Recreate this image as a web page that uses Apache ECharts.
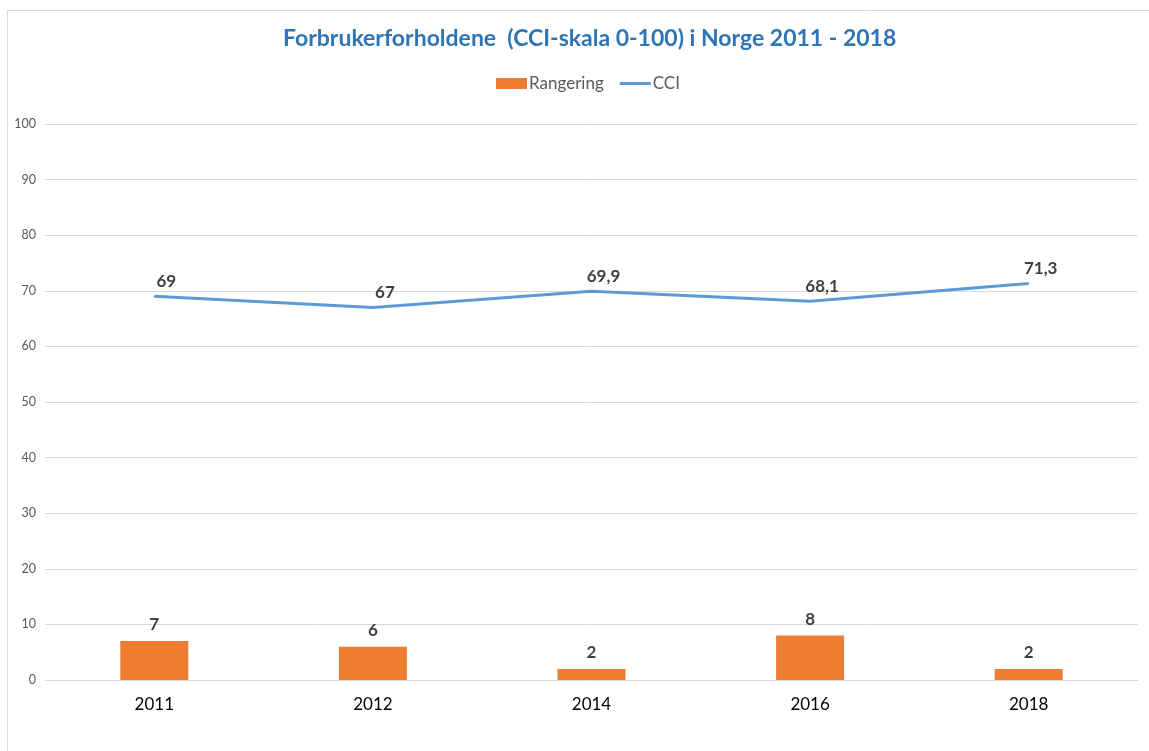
<!DOCTYPE html>
<html>
<head>
<meta charset="utf-8">
<script src="https://cdn.jsdelivr.net/npm/echarts@6/dist/echarts.min.js"></script>
<style>
    html, body { margin: 0; padding: 0; background: #fff; }
    #chart { width: 1149px; height: 751px; }
</style>
</head>
<body>
<div id="chart"></div>
<script>
    // data
    var years = ['2011', '2012', '2014', '2016', '2018'];
    var rangering = [7, 6, 2, 8, 2];
    var cci = [69, 67, 69.9, 68.1, 71.3];

    var fmt = function (p) { return String(p.value).replace('.', ','); };

    var chart = echarts.init(document.getElementById('chart'));
    var option = {
        backgroundColor: '#fff',
        textStyle: { fontFamily: 'Lato' },
        title: {
            text: 'Forbrukerforholdene  (CCI-skala 0-100) i Norge 2011 - 2018',
            left: 278,
            top: 22,
            textStyle: { color: '#2E75B6', fontSize: 23, fontWeight: 'bold', fontFamily: 'Lato' }
        },
        legend: {
            top: 70,
            left: 491,
            itemGap: 16,
            itemWidth: 31,
            itemHeight: 11,
            textStyle: { color: '#595959', fontSize: 17, padding: [0, 0, 0, -3] },
            data: [
                { name: 'Rangering', icon: 'rect' },
                { name: 'CCI', icon: 'path://M0,0 H31 V3 H0 Z' }
            ]
        },
        grid: { left: 45, right: 11, top: 124, bottom: 71 },
        xAxis: {
            type: 'category',
            data: years,
            axisTick: { show: false },
            axisLine: { lineStyle: { color: '#d9d9d9' } },
            axisLabel: { color: '#000', fontSize: 17, margin: 16 }
        },
        yAxis: {
            type: 'value',
            min: 0,
            max: 100,
            interval: 10,
            axisLine: { show: false },
            axisTick: { show: false },
            axisLabel: { color: '#595959', fontSize: 12.5, margin: 9 },
            splitLine: { lineStyle: { color: '#d9d9d9' } }
        },
        graphic: [{
            type: 'rect',
            shape: { x: 7.5, y: 10.5, width: 1300, height: 900 },
            style: { fill: null, stroke: '#d9d9d9', lineWidth: 1 },
            silent: true
        }],
        series: [
            {
                name: 'Rangering',
                type: 'bar',
                data: rangering,
                barWidth: 68,
                itemStyle: { color: '#ED7D31' },
                label: {
                    show: true, position: 'top', distance: 8,
                    color: '#404040', fontSize: 17, fontWeight: 'bold'
                }
            },
            {
                name: 'CCI',
                type: 'line',
                data: cci,
                symbol: 'circle',
                symbolSize: 1,
                showSymbol: true,
                lineStyle: { color: '#5B9BD5', width: 3 },
                itemStyle: { color: '#5B9BD5' },
                label: {
                    show: true, position: 'top', distance: 6, offset: [12, 0],
                    color: '#404040', fontSize: 17, fontWeight: 'bold',
                    formatter: fmt
                }
            }
        ]
    };
    chart.setOption(option);
</script>
</body>
</html>
